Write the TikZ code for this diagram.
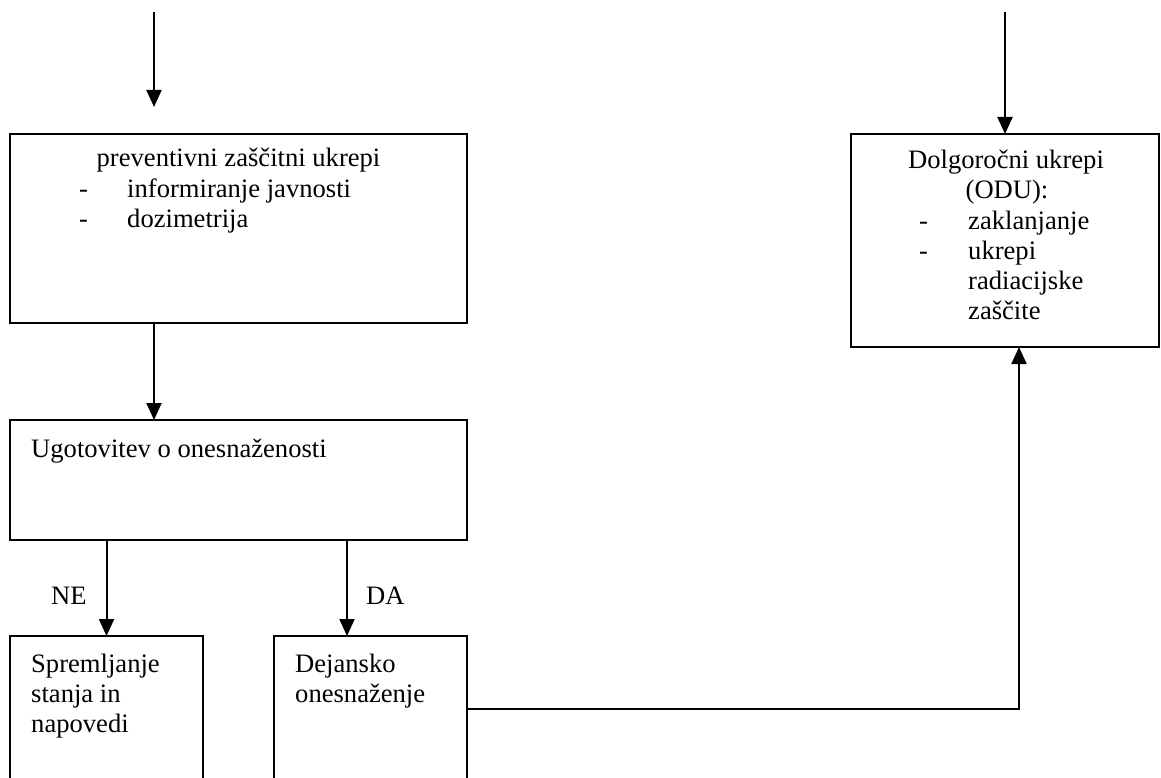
\documentclass[tikz,border=0pt]{standalone}
\usepackage{fontspec}
\setmainfont{Liberation Serif}
\usetikzlibrary{arrows.meta,calc}
\begin{document}
\begin{tikzpicture}[x=1pt,y=-1pt,
  box/.style={draw,line width=2pt,inner sep=0pt,outer sep=0pt,anchor=north west},
  txt/.style={inner sep=0pt,anchor=base west,font=\fontsize{26.6}{30}\selectfont},
  ctxt/.style={txt,anchor=base},
  conn/.style={line width=2pt,-{Triangle[width=15pt,length=17pt]}}]
\clip (0,0) rectangle (1161,778);
\fill[white] (0,0) rectangle (1161,778);
% boxes
\node[box,minimum width=457pt,minimum height=189pt] (b1) at (10,134) {};
\node[box,minimum width=457pt,minimum height=120pt] (b2) at (10,420) {};
\node[box,minimum width=193pt,minimum height=170pt] (b3) at (10,636) {};
\node[box,minimum width=193pt,minimum height=170pt] (b4) at (274,636) {};
\node[box,minimum width=308pt,minimum height=213pt] (b5) at (851,134) {};
% texts
\node[ctxt] (t1a) at (238.5,167) {preventivni zaščitni ukrepi};
\node[txt] (t1b) at (79,197) {-};
\node[txt] (t1c) at (127,197) {informiranje javnosti};
\node[txt] (t1d) at (79,227) {-};
\node[txt] (t1e) at (127,227) {dozimetrija};
\node[txt] (t2) at (31,457) {Ugotovitev o onesnaženosti};
\node[txt] (t3a) at (31,672) {Spremljanje};
\node[txt] (t3b) at (31,702) {stanja in};
\node[txt] (t3c) at (31,732) {napovedi};
\node[txt] (t4a) at (295,672) {Dejansko};
\node[txt] (t4b) at (295,702) {onesnaženje};
\node[ctxt] (t5a) at (1006,169) {Dolgoročni ukrepi};
\node[ctxt] (t5b) at (1007,199) {(ODU):};
\node[txt] (t5c) at (919,229) {-};
\node[txt] (t5d) at (968,229) {zaklanjanje};
\node[txt] (t5e) at (919,259) {-};
\node[txt] (t5f) at (968,259) {ukrepi};
\node[txt] (t5g) at (968,289) {radiacijske};
\node[txt] (t5h) at (968,319) {zaščite};
\node[txt] (ne) at (51,604) {NE};
\node[txt] (da) at (366,604) {DA};
% connectors
\coordinate (in1) at (154,12);
\coordinate (in2) at (1005,12);
\coordinate (bend) at (1019,709);
\draw[conn] (in1) -- ([yshift=27pt]b1.north -| in1);
\draw[conn] (in2) -- (b5.north -| in2);
\draw[conn] (b1.south -| in1) -- (b2.north -| in1);
\draw[conn] (b2.south -| b3.north) -- (b3.north);
\draw[conn] (b2.south -| 347,0) -- (b4.north -| 347,0);
\draw[conn] (b4.east |- bend) -- (bend) -- (b5.south -| bend);
\end{tikzpicture}
\end{document}
